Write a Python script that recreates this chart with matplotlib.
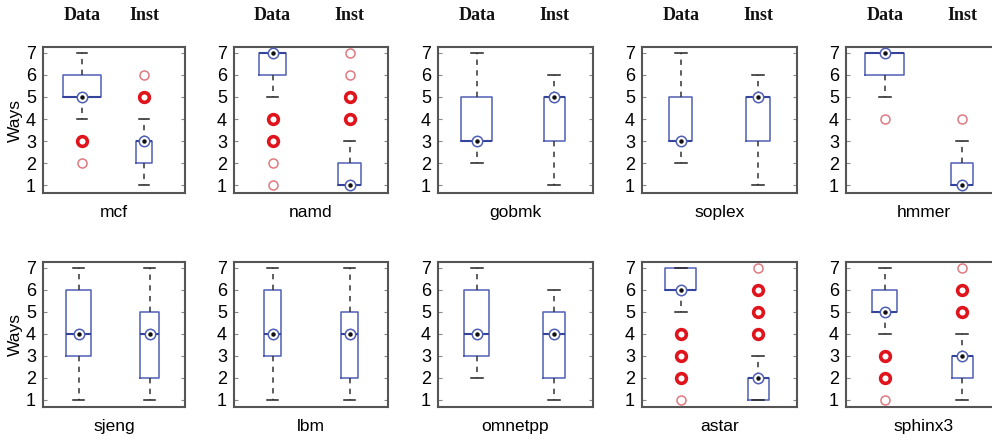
import matplotlib
matplotlib.use("Agg")
import matplotlib.pyplot as plt

# ---------------- data ----------------
names = ['mcf', 'namd', 'gobmk', 'soplex', 'hmmer',
         'sjeng', 'lbm', 'omnetpp', 'astar', 'sphinx3']
groups = ['Data', 'Inst']

data_q1 = [5, 6, 3, 3, 6, 3, 3, 3, 6, 5]
data_med = [5, 7, 3, 3, 7, 4, 4, 4, 6, 5]
data_q3 = [6, 7, 5, 5, 7, 6, 6, 6, 7, 6]
data_wlo = [4, 5, 2, 2, 5, 1, 1, 2, 5, 4]
data_whi = [7, 7, 7, 7, 7, 7, 7, 7, 7, 7]
data_out_many = [[3], [4, 3], [], [], [], [], [], [], [4, 3, 2], [3, 2]]
data_out_few = [[2], [2, 1], [], [], [4], [], [], [], [1], [1]]

inst_q1 = [2, 1, 3, 3, 1, 2, 2, 2, 1, 2]
inst_med = [3, 1, 5, 5, 1, 4, 4, 4, 2, 3]
inst_q3 = [3, 2, 5, 5, 2, 5, 5, 5, 2, 3]
inst_wlo = [1, 1, 1, 1, 1, 1, 1, 1, 1, 1]
inst_whi = [4, 3, 6, 6, 3, 7, 7, 6, 3, 4]
inst_out_many = [[5], [4, 5], [], [], [], [], [], [], [4, 5, 6], [5, 6]]
inst_out_few = [[6], [6, 7], [], [], [4], [], [], [], [7], [7]]

yticks = [1, 2, 3, 4, 5, 6, 7]

# ---------------- layout / style ----------------
W, H = 992, 442
col_left = [43, 234, 438, 642, 846]
col_width = [142, 154, 155, 155, 155]
row_top = [47, 262]
row_bottom = [193, 407]
xlims = [(0.37, 2.66), (0.5, 2.5), (0.5, 2.5), (0.5, 2.5), (0.5, 2.5),
         (0.5, 2.5), (0.5, 2.5), (0.5, 2.5), (0.5, 2.5), (0.5, 2.5)]
ylims = [(0.64, 7.27), (0.68, 7.27)]
box_widths = [(0.61, 0.27), (0.35, 0.29), (0.40, 0.27), (0.30, 0.31), (0.50, 0.29),
              (0.34, 0.28), (0.21, 0.22), (0.32, 0.29), (0.40, 0.27), (0.32, 0.27)]

BLUE = '#4f5fb5'
DARKBLUE = '#34449a'
RED = '#e0141c'
PINK = '#e07a80'
FRAME = '#555555'

fig = plt.figure(figsize=(W / 100, H / 100), dpi=100)
fig.patch.set_facecolor('white')

for i, name in enumerate(names):
    r, c = divmod(i, 5)
    left = col_left[c] / W
    bottom = 1 - row_bottom[r] / H
    width = col_width[c] / W
    height = (row_bottom[r] - row_top[r]) / H
    ax = fig.add_axes([left, bottom, width, height])

    stats = [
        dict(q1=data_q1[i], med=data_med[i], q3=data_q3[i],
             whislo=data_wlo[i], whishi=data_whi[i], fliers=[]),
        dict(q1=inst_q1[i], med=inst_med[i], q3=inst_q3[i],
             whislo=inst_wlo[i], whishi=inst_whi[i], fliers=[]),
    ]
    ax.bxp(stats, positions=[1, 2], widths=list(box_widths[i]),
           capwidths=[0.15, 0.15], showfliers=False, manage_ticks=False,
           boxprops=dict(color=BLUE, linewidth=1.1),
           whiskerprops=dict(color='#333333', linewidth=1.1, linestyle=(0, (3.5, 3.5))),
           capprops=dict(color='#222222', linewidth=1.1),
           medianprops=dict(color=DARKBLUE, linewidth=1.5))

    # median markers
    meds = [data_med[i], inst_med[i]]
    ax.plot([1, 2], meds, linestyle='none', marker='o', markersize=7.5,
            markerfacecolor='white', markeredgecolor=BLUE, markeredgewidth=1.1, zorder=5)
    ax.plot([1, 2], meds, linestyle='none', marker='o', markersize=2.2,
            color='#111111', zorder=6)

    # outliers
    for pos, many, few in [(1, data_out_many[i], data_out_few[i]),
                           (2, inst_out_many[i], inst_out_few[i])]:
        if few:
            ax.plot([pos] * len(few), few, linestyle='none', marker='o', markersize=6.5,
                    markerfacecolor='none', markeredgecolor=PINK, markeredgewidth=1.1, zorder=4)
        if many:
            ax.plot([pos] * len(many), many, linestyle='none', marker='o', markersize=7,
                    markerfacecolor='none', markeredgecolor=RED, markeredgewidth=2.6, zorder=4)

    ax.set_xlim(*xlims[i])
    ax.set_ylim(*ylims[r])
    ax.set_xticks([])
    ax.set_yticks(yticks)
    ax.set_yticklabels([str(t) for t in yticks], family='Liberation Sans', fontsize=13)
    ax.tick_params(axis='y', direction='in', length=3, width=0.8, color='#888888',
                   left=True, right=True, pad=5)
    for s in ax.spines.values():
        s.set_color(FRAME)
        s.set_linewidth(1.5)

    ax.text(0.5, -0.085, name, transform=ax.transAxes, ha='center', va='top',
            family='Liberation Sans', fontsize=12.5)
    if c == 0:
        ax.set_ylabel('Ways', family='Liberation Sans', fontsize=12.5, labelpad=2)
    if r == 0:
        for pos, g in zip([1, 2], groups):
            ax.annotate(g, xy=(pos, 1), xycoords=('data', 'axes fraction'),
                        xytext=(0, 32), textcoords='offset pixels',
                        ha='center', va='center', family='Liberation Serif',
                        fontsize=13, fontweight='bold', color='#111111',
                        annotation_clip=False)

fig.savefig('out.png', dpi=100, facecolor='white')
